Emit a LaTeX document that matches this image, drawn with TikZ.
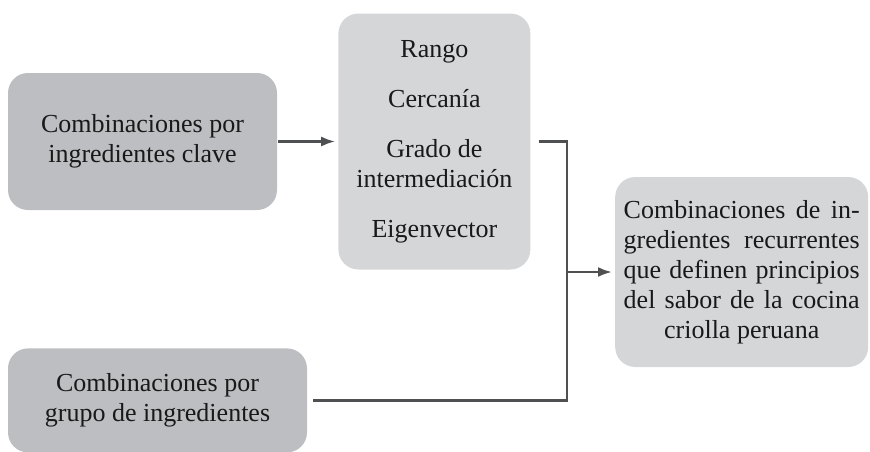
\documentclass[tikz,border=0pt]{standalone}
\usepackage{fontspec}
\setmainfont{Liberation Serif}
\usepackage{xcolor}
\usepackage{tikz}
\usetikzlibrary{arrows.meta, positioning}

\definecolor{boxdark}{HTML}{BDBEC1}
\definecolor{boxlight}{HTML}{D5D6D8}
\definecolor{linegray}{HTML}{4F5052}

\begin{document}
\begin{tikzpicture}[
    dark/.style={rectangle, fill=boxdark, rounded corners=20pt, align=center, font=\fontsize{26}{30}\selectfont, text=black!90},
    light/.style={dark, fill=boxlight},
    arrow/.style={line width=2.4pt, draw=linegray, -{Latex[length=14pt, width=10pt]}, shorten >=3pt},
    line/.style={line width=2.4pt, draw=linegray},
]
    \useasboundingbox (0,0) rectangle (870pt,-451pt);

    % Boxes
    \node[dark, minimum width=269pt, minimum height=137pt] (clave) at (142.5pt,-141.5pt) {Combinaciones por\\ingredientes clave};
    \node[light, right=61pt of clave, minimum width=192pt, minimum height=256pt] (medidas) {Rango\\[20pt]Cercanía\\[20pt]Grado de\\intermediación\\[20pt]Eigenvector};
    \node[dark, below=138pt of clave.south west, anchor=north west, minimum width=299pt, minimum height=104pt] (grupo) {Combinaciones por\\grupo de ingredientes};
    \coordinate (join) at (567pt,-272pt);
    \node[light, right=48pt of join, minimum width=253pt, minimum height=190pt] (principios) {\makebox[236pt][s]{Combinaciones de in-}\\\makebox[236pt][s]{gredientes recurrentes}\\\makebox[236pt][s]{que definen principios}\\\makebox[236pt][s]{del sabor de la cocina}\\criolla peruana};

    % Connectors
    \draw[arrow, shorten <=1pt] (clave) -- (medidas);
    \draw[line] ([xshift=8pt]medidas.east) -| (join) |- ([xshift=6pt]grupo.east);
    \draw[arrow] (join) -- (principios);
\end{tikzpicture}
\end{document}
